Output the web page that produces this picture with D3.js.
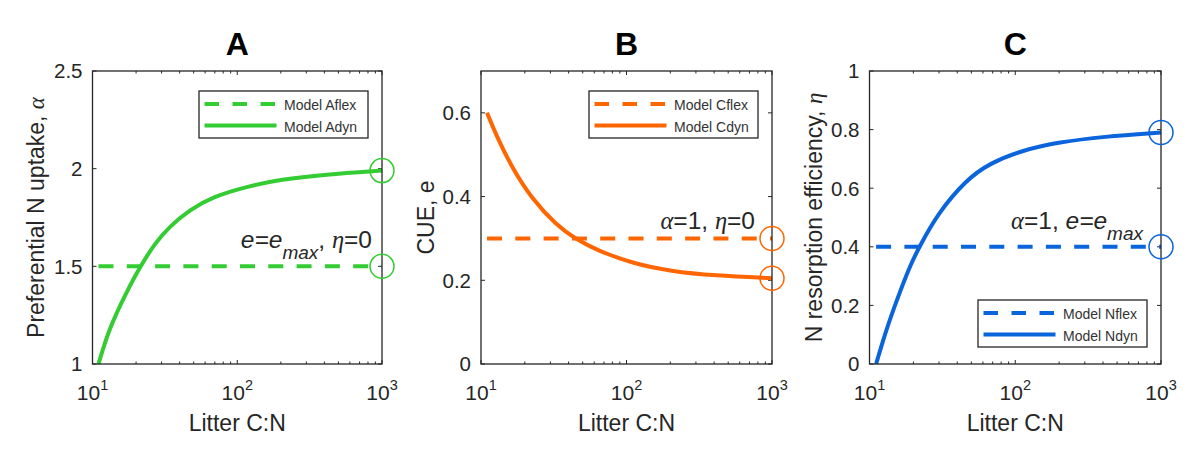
<!DOCTYPE html>
<html><head><meta charset="utf-8">
<script src="https://cdn.jsdelivr.net/npm/d3@7"></script>
<style>
body{margin:0;background:#fff}
text{font-family:"Liberation Sans",Arial,Helvetica,sans-serif;fill:#262626}
.sym{font-family:"Liberation Serif","DejaVu Serif",serif;font-style:italic}
</style>
</head><body>
<svg id="chart" width="1200" height="463"></svg>
<script>
// ---- data ----
const cnA      = [11, 13, 17, 21.3, 27, 34, 47, 68, 116, 200, 400, 1000];
const alphaDyn = [1.00, 1.18, 1.362, 1.498, 1.618, 1.703, 1.789, 1.857, 1.908, 1.945, 1.97, 1.99];
const cnB      = [11, 12.7, 16.2, 22.5, 33, 44, 64, 114, 200, 400, 1000];
const cueDyn   = [0.60, 0.547, 0.471, 0.393, 0.332, 0.300, 0.270, 0.239, 0.222, 0.211, 0.205];
const cnC      = [11.1, 13, 15.7, 19.3, 22, 29.4, 46, 66.5, 112.7, 200, 400, 1000];
const etaDyn   = [0.00, 0.116, 0.230, 0.344, 0.400, 0.514, 0.628, 0.685, 0.730, 0.757, 0.776, 0.79];
const alphaFlex = 1.5;
const cueFlex = 0.3;
const etaFlex = 0.4;
const xMajorTicks = [10, 100, 1000];
const xTickExponents = ["1", "2", "3"];
const xMinorTicks = [20, 30, 40, 50, 60, 70, 80, 90, 200, 300, 400, 500, 600, 700, 800, 900];
const yTicksA = [1, 1.5, 2, 2.5];
const yTicksB = [0, 0.2, 0.4, 0.6];
const yTicksC = [0, 0.2, 0.4, 0.6, 0.8, 1];
const titles = ["A", "B", "C"];
const legendA = ["Model Aflex", "Model Adyn"];
const legendB = ["Model Cflex", "Model Cdyn"];
const legendC = ["Model Nflex", "Model Ndyn"];

// ---- layout ----
const svg = d3.select("#chart");
const TOP = 71, BOTTOM = 364;
const panels = [
  {left: 92.5, right: 382, yDomain: [1, 2.5], yTicks: yTicksA, color: "#33cc33",
   cn: cnA, dyn: alphaDyn, flex: alphaFlex, title: titles[0], legend: legendA, legendPos: "top",
   ylab: [["Preferential N uptake, ", ""], ["α", "sym"]], ylabX: 44,
   ann: [["e=e", "it"], ["max", "itsub"], [", ", ""], ["η", "sym"], ["=0", ""]], annX: 372, annY: 248},
  {left: 481, right: 772, yDomain: [0, 0.7], yTicks: yTicksB, color: "#ff6600",
   cn: cnB, dyn: cueDyn, flex: cueFlex, title: titles[1], legend: legendB, legendPos: "top",
   ylab: [["CUE, e", ""]], ylabX: 433.5,
   ann: [["α", "sym"], ["=1, ", ""], ["η", "sym"], ["=0", ""]], annX: 755, annY: 229},
  {left: 869.5, right: 1161, yDomain: [0, 1], yTicks: yTicksC, color: "#0a64dc",
   cn: cnC, dyn: etaDyn, flex: etaFlex, title: titles[2], legend: legendC, legendPos: "bottom",
   ylab: [["N resorption efficiency, ", ""], ["η", "sym"]], ylabX: 822,
   ann: [["α", "sym"], ["=1, ", ""], ["e=e", "it"], ["max", "itsub"]], annX: 1143, annY: 228.5}
];

const axisColor = "#262626";

panels.forEach(p => {
  const x = d3.scaleLog().domain([10, 1000]).range([p.left, p.right]);
  const y = d3.scaleLinear().domain(p.yDomain).range([BOTTOM, TOP]);
  const g = svg.append("g");

  g.append("rect").attr("x", p.left).attr("y", TOP)
    .attr("width", p.right - p.left).attr("height", BOTTOM - TOP).attr("fill", "#fff");

  // ticks (inward)
  const tickG = g.append("g").attr("stroke", axisColor).attr("stroke-width", 1);
  xMajorTicks.forEach(t => {
    tickG.append("line").attr("x1", x(t)).attr("x2", x(t)).attr("y1", BOTTOM).attr("y2", BOTTOM - 4);
    tickG.append("line").attr("x1", x(t)).attr("x2", x(t)).attr("y1", TOP).attr("y2", TOP + 4);
  });
  xMinorTicks.forEach(t => {
    tickG.append("line").attr("x1", x(t)).attr("x2", x(t)).attr("y1", BOTTOM).attr("y2", BOTTOM - 2.5);
    tickG.append("line").attr("x1", x(t)).attr("x2", x(t)).attr("y1", TOP).attr("y2", TOP + 2.5);
  });
  p.yTicks.forEach(t => {
    tickG.append("line").attr("x1", p.left).attr("x2", p.left + 4).attr("y1", y(t)).attr("y2", y(t));
    tickG.append("line").attr("x1", p.right).attr("x2", p.right - 4).attr("y1", y(t)).attr("y2", y(t));
  });

  // y tick labels
  p.yTicks.forEach(t => {
    g.append("text").attr("x", p.left - 10).attr("y", y(t)).attr("dy", "0.36em")
      .attr("text-anchor", "end").attr("font-size", 20.5).text(String(t));
  });
  // x tick labels 10^n
  xMajorTicks.forEach((t, i) => {
    const tx = g.append("text").attr("x", x(t)).attr("y", 400)
      .attr("text-anchor", "middle").attr("font-size", 21);
    tx.append("tspan").text("10");
    tx.append("tspan").attr("font-size", 14.5).attr("dy", -10).text(xTickExponents[i]);
  });

  // x label
  g.append("text").attr("x", (p.left + p.right) / 2).attr("y", 431)
    .attr("text-anchor", "middle").attr("font-size", 23).text("Litter C:N");
  // y label
  const yl = g.append("text")
    .attr("transform", `translate(${p.ylabX},${(TOP + BOTTOM) / 2}) rotate(-90)`)
    .attr("text-anchor", "middle").attr("font-size", 23);
  p.ylab.forEach(([s, cls]) => { const ts = yl.append("tspan").text(s); if (cls) ts.attr("class", cls); });

  // title
  g.append("text").attr("x", (p.left + p.right) / 2).attr("y", 55)
    .attr("text-anchor", "middle").attr("font-size", 32).attr("font-weight", "bold")
    .style("fill", "#000").text(p.title);

  // lines
  const line = d3.line().x(d => x(d[0])).y(d => y(d[1]));
  const dynData = p.cn.map((c, i) => [c, p.dyn[i]]);
  const flexData = [[p.cn[0], p.flex], [p.cn[p.cn.length - 1], p.flex]];
  g.append("path").datum(flexData).attr("d", line).attr("fill", "none")
    .attr("stroke", p.color).attr("stroke-width", 4).attr("stroke-dasharray", "15,13.3");
  g.append("path").datum(dynData).attr("d", line.curve(d3.curveBasis)).attr("fill", "none")
    .attr("stroke", p.color).attr("stroke-width", 4).attr("stroke-linejoin", "round");

  // annotation
  const an = g.append("text").attr("x", p.annX).attr("y", p.annY)
    .attr("text-anchor", "end").attr("font-size", 24.5);
  let sub = false;
  p.ann.forEach(([s, cls]) => {
    const ts = an.append("tspan").text(s);
    if (cls === "sym") ts.attr("class", "sym");
    if (cls === "it") ts.attr("font-style", "italic");
    if (cls === "itsub") { ts.attr("font-style", "italic").attr("font-size", 19).attr("dy", 11); sub = true; }
    else if (sub) { ts.attr("dy", -11); sub = false; }
  });

  // box outline
  g.append("rect").attr("x", p.left).attr("y", TOP)
    .attr("width", p.right - p.left).attr("height", BOTTOM - TOP)
    .attr("fill", "none").attr("stroke", axisColor).attr("stroke-width", 1.3);

  // end-point circles
  const endX = p.cn[p.cn.length - 1];
  [p.dyn[p.dyn.length - 1], p.flex].forEach(v => {
    g.append("circle").attr("cx", x(endX)).attr("cy", y(v)).attr("r", 12)
      .attr("fill", "none").attr("stroke", p.color).attr("stroke-width", 1.5);
  });

  // legend
  const lw = 169, lh = 47;
  const lx = p.right - 14 - lw;
  const ly = p.legendPos === "top" ? TOP + 20 : BOTTOM - 17 - lh;
  const lg = g.append("g");
  lg.append("rect").attr("x", lx).attr("y", ly).attr("width", lw).attr("height", lh)
    .attr("fill", "#fff").attr("stroke", axisColor).attr("stroke-width", 1.3);
  [13, 34.5].forEach((off, i) => {
    lg.append("line").attr("x1", lx + 5.5).attr("x2", lx + 77.5)
      .attr("y1", ly + off).attr("y2", ly + off)
      .attr("stroke", p.color).attr("stroke-width", 4)
      .attr("stroke-dasharray", i === 0 ? "14.5,13.5" : null);
    lg.append("text").attr("x", lx + 85).attr("y", ly + off + 1.5).attr("dy", "0.35em")
      .attr("font-size", 14).style("fill", "#333").text(p.legend[i]);
  });
});
</script>
</body></html>
